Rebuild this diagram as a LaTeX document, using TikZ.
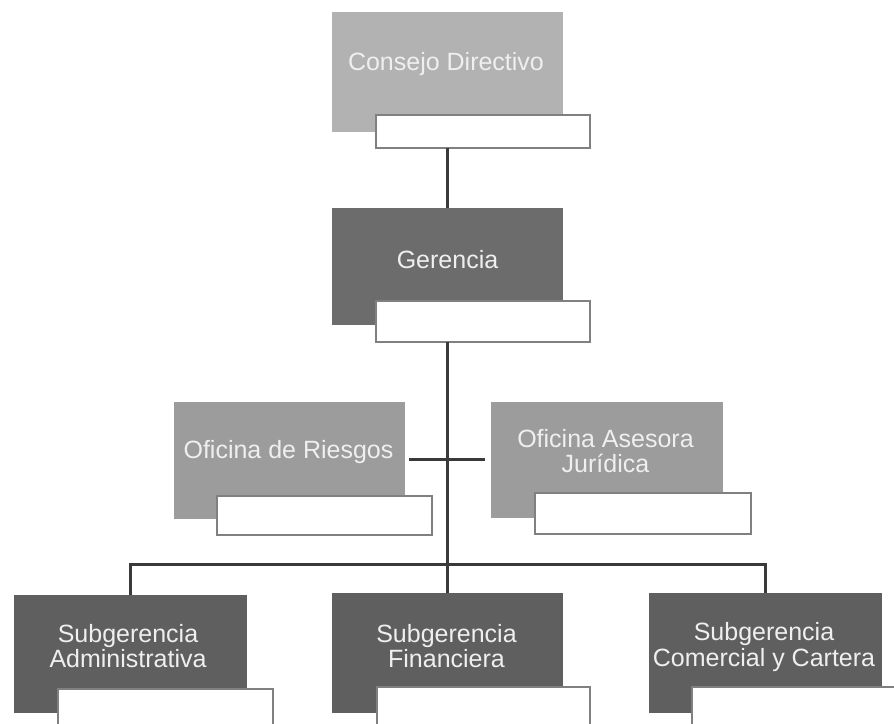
\documentclass[tikz,border=0pt]{standalone}
\usepackage{fontspec}
\setmainfont{Liberation Sans}
\definecolor{cdgrey}{HTML}{B2B2B2}
\definecolor{gegrey}{HTML}{6C6C6C}
\definecolor{ofgrey}{HTML}{9C9C9C}
\definecolor{sbgrey}{HTML}{5F5F5F}
\definecolor{txtgrey}{HTML}{EFEFEF}
\definecolor{edgegrey}{HTML}{808080}
\definecolor{linegrey}{HTML}{3A3A3A}
\begin{document}
\begin{tikzpicture}[x=1pt,y=-1pt,
  greybox/.style={rectangle, inner sep=0pt, outer sep=0pt, minimum width=231pt, minimum height=118pt},
  whitebox/.style={rectangle, draw=edgegrey, line width=1.5pt, fill=white, inner sep=0pt, outer sep=0pt},
  boxtext/.style={text=txtgrey, font=\fontsize{25}{25.5}\selectfont, align=center, inner sep=0pt},
  conn/.style={draw=linegrey, line width=3pt}
]
\useasboundingbox (0,0) rectangle (894,723);
\clip (0,0) rectangle (894,723);
\fill[white] (0,0) rectangle (894,723);

% grey boxes
\node[greybox, fill=cdgrey, minimum height=120pt] (cd) at (447.5,72) {};
\node[greybox, fill=gegrey, minimum height=117pt] (ge) at (447.5,266.5) {};
\node[greybox, fill=ofgrey, minimum height=117pt] (or) at (289.5,460.5) {};
\node[greybox, fill=ofgrey, minimum width=232pt, minimum height=116pt] (oa) at (607,460) {};
\node[greybox, fill=sbgrey, minimum width=233pt] (sa) at (130.5,654) {};
\node[greybox, fill=sbgrey, minimum height=120pt] (sf) at (447.5,653) {};
\node[greybox, fill=sbgrey, minimum width=233pt, minimum height=120pt] (sc) at (765.5,653) {};

% white boxes
\node[whitebox, minimum width=214pt, minimum height=33pt] (cdw) at (483,131.5) {};
\node[whitebox, minimum width=214pt, minimum height=41pt] (gew) at (483,321.5) {};
\node[whitebox, minimum width=215pt, minimum height=39pt] (orw) at (324.5,515.5) {};
\node[whitebox, minimum width=216pt, minimum height=41pt] (oaw) at (643,513.5) {};
\node[whitebox, minimum width=215pt, minimum height=51pt] (saw) at (165.5,714.5) {};
\node[whitebox, minimum width=213pt, minimum height=53pt] (sfw) at (483.5,713.5) {};
\node[whitebox, minimum width=214pt, minimum height=53pt] (scw) at (799,713.5) {};

% texts
\node[boxtext] (cdT) at ([xshift=-1.5pt,yshift=8pt]cd.center) {Consejo Directivo};
\node[boxtext] (geT) at ([yshift=7pt]ge.center) {Gerencia};
\node[boxtext] (orT) at ([xshift=-1pt,yshift=8pt]or.center) {Oficina de Riesgos};
\node[boxtext] (oaT) at ([xshift=-1.5pt,yshift=9pt]oa.center) {Oficina Asesora\\Jurídica};
\node[boxtext] (saT) at ([xshift=-2.5pt,yshift=8pt]sa.center) {Subgerencia\\Administrativa};
\node[boxtext] (sfT) at ([xshift=-1pt,yshift=7pt]sf.center) {Subgerencia\\Financiera};
\node[boxtext] (scT) at ([xshift=-1.5pt,yshift=6pt]sc.center) {Subgerencia\\Comercial y Cartera};

% connectors
\coordinate (bar) at (447.5,564);
\draw[conn] (cd.south |- cdw.south) -- (ge.north);
\draw[conn] (ge.south |- gew.south) -- (bar);
\draw[conn] ([xshift=4pt]or.east |- 0,459) -- ([xshift=-6pt]oa.west |- 0,459);
\draw[conn] (sa.north) -- (sa.north |- bar) -- (sc.north |- bar) -- (sc.north);
\draw[conn] (bar) -- (sf.north);
\end{tikzpicture}
\end{document}
